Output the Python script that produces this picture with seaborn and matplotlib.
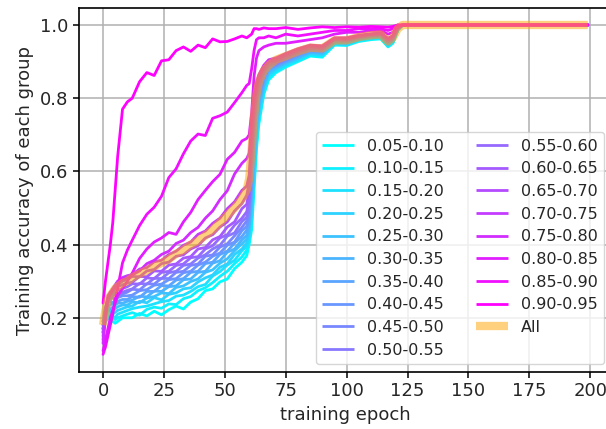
import numpy as np
import pandas as pd
import matplotlib
matplotlib.use("Agg")
from matplotlib import pyplot as plt
import seaborn as sns

epochs = [0, 1, 2, 3, 4, 5, 6, 8, 10,
          12, 15, 18, 21, 24, 27, 30, 33, 36, 39, 42, 45, 48, 51, 54, 57,
          59, 60, 61, 62, 63, 64, 66, 68,
          71, 75, 80, 85, 90, 95, 100, 105, 110, 114, 117, 119, 121, 123, 125, 199]

group_labels = ['0.05-0.10', '0.10-0.15', '0.15-0.20', '0.20-0.25', '0.25-0.30',
                '0.30-0.35', '0.35-0.40', '0.40-0.45', '0.45-0.50', '0.50-0.55',
                '0.55-0.60', '0.60-0.65', '0.65-0.70', '0.70-0.75', '0.75-0.80',
                '0.80-0.85', '0.85-0.90', '0.90-0.95']

acc_g00 = [.17, .19, .20, .195, .19, .185, .19, .20, .20,
           .200, .212, .205, .218, .208, .222, .232, .224, .243, .252, .274, .279, .298, .306, .334, .352,
           .37, .40, .44, .55, .66, .73, .81, .85,
           .870, .885, .900, .915, .912, .945, .944, .955, .960, .962, .940, .950, .985, 1, 1, 1]
acc_g01 = [.18, .20, .21, .20, .20, .195, .20, .205, .21,
           .214, .207, .223, .229, .226, .238, .236, .252, .258, .274, .282, .296, .313, .327, .348, .366,
           .385, .41, .46, .57, .68, .745, .815, .855,
           .873, .888, .905, .918, .915, .947, .946, .957, .962, .964, .942, .952, .986, 1, 1, 1]
acc_g02 = [.16, .19, .20, .21, .205, .20, .21, .215, .22,
           .225, .229, .232, .238, .244, .247, .259, .262, .272, .285, .291, .314, .326, .344, .357, .383,
           .395, .42, .48, .59, .69, .755, .825, .86,
           .876, .890, .903, .920, .918, .948, .948, .958, .963, .966, .944, .954, .987, 1, 1, 1]
acc_g03 = [.18, .21, .22, .215, .21, .215, .22, .225, .23,
           .232, .245, .241, .255, .249, .264, .268, .279, .282, .298, .309, .317, .338, .347, .373, .388,
           .405, .435, .50, .61, .70, .765, .83, .865,
           .880, .893, .908, .922, .920, .950, .947, .960, .965, .967, .945, .955, .988, 1, 1, 1]
acc_g04 = [.17, .20, .22, .225, .22, .225, .23, .235, .235,
           .243, .241, .254, .258, .268, .266, .283, .287, .299, .306, .324, .331, .349, .361, .383, .402,
           .415, .445, .52, .63, .715, .775, .835, .87,
           .882, .896, .910, .925, .922, .951, .950, .961, .966, .968, .947, .957, .988, 1, 1, 1]
acc_g05 = [.19, .22, .23, .22, .23, .235, .24, .24, .245,
           .248, .259, .257, .273, .272, .285, .287, .304, .306, .324, .327, .349, .356, .379, .388, .413,
           .425, .455, .54, .65, .73, .785, .84, .875,
           .885, .898, .912, .926, .925, .953, .952, .962, .967, .969, .948, .958, .989, 1, 1, 1]
acc_g06 = [.16, .20, .23, .235, .24, .24, .245, .25, .25,
           .258, .256, .272, .272, .288, .287, .303, .307, .324, .327, .348, .352, .373, .382, .404, .422,
           .44, .47, .56, .67, .745, .795, .85, .88,
           .888, .900, .915, .928, .927, .954, .953, .963, .968, .970, .950, .960, .989, 1, 1, 1]
acc_g07 = [.18, .22, .24, .245, .24, .25, .255, .26, .26,
           .262, .274, .277, .289, .292, .304, .307, .323, .327, .344, .352, .368, .377, .398, .407, .438,
           .45, .48, .58, .69, .76, .805, .855, .88,
           .890, .903, .917, .930, .928, .956, .955, .964, .969, .971, .952, .961, .990, 1, 1, 1]
acc_g08 = [.17, .21, .24, .25, .255, .25, .26, .265, .27,
           .278, .276, .293, .292, .308, .307, .324, .327, .343, .347, .368, .372, .393, .402, .424, .447,
           .465, .50, .60, .71, .775, .815, .86, .885,
           .893, .905, .920, .932, .930, .957, .956, .965, .970, .972, .953, .962, .990, 1, 1, 1]
acc_g09 = [.19, .23, .25, .255, .26, .265, .265, .27, .275,
           .279, .294, .292, .308, .307, .323, .327, .343, .347, .363, .372, .388, .398, .423, .432, .463,
           .475, .515, .62, .725, .79, .825, .865, .89,
           .895, .908, .922, .934, .932, .958, .958, .966, .971, .973, .955, .963, .991, 1, 1, 1]
acc_g10 = [.17, .22, .25, .26, .265, .27, .275, .28, .285,
           .293, .292, .309, .307, .324, .327, .343, .347, .364, .367, .388, .397, .418, .427, .453, .472,
           .49, .53, .64, .74, .80, .835, .87, .89,
           .898, .910, .925, .935, .934, .960, .959, .967, .972, .974, .956, .964, .991, 1, 1, 1]
acc_g11 = [.16, .22, .255, .265, .27, .28, .285, .29, .295,
           .297, .313, .312, .328, .327, .344, .347, .363, .367, .388, .392, .413, .422, .448, .462, .498,
           .51, .55, .66, .755, .81, .845, .875, .895,
           .900, .913, .927, .937, .936, .961, .960, .968, .973, .975, .958, .966, .992, 1, 1, 1]
acc_g12 = [.15, .22, .26, .27, .275, .285, .29, .30, .305,
           .313, .312, .328, .332, .348, .352, .368, .372, .388, .397, .418, .427, .448, .462, .492, .512,
           .535, .57, .68, .77, .82, .85, .88, .90,
           .903, .915, .930, .940, .938, .962, .962, .969, .974, .976, .960, .968, .992, 1, 1, 1]
acc_g13 = [.14, .21, .25, .27, .28, .29, .30, .31, .315,
           .318, .333, .337, .353, .357, .373, .382, .398, .407, .428, .437, .458, .472, .498, .517, .548,
           .56, .59, .70, .785, .83, .855, .885, .90,
           .905, .918, .932, .942, .940, .963, .963, .970, .975, .977, .962, .969, .993, 1, 1, 1]
acc_g14 = [.13, .20, .25, .265, .275, .285, .295, .305, .31,
           .317, .328, .348, .357, .373, .382, .403, .412, .433, .447, .472, .492, .523, .547, .593, .622,
           .635, .65, .73, .80, .845, .865, .89, .905,
           .910, .922, .935, .945, .943, .965, .965, .972, .976, .978, .964, .971, .994, 1, 1, 1]
acc_g15 = [.11, .14, .17, .20, .22, .24, .26, .28, .30,
           .322, .362, .388, .407, .418, .433, .428, .462, .488, .523, .548, .572, .592, .633, .652, .683,
           .69, .70, .76, .86, .91, .93, .94, .945,
           .950, .950, .955, .960, .965, .975, .980, .980, .985, .985, .975, .980, .995, 1, 1, 1]
acc_g16 = [.10, .12, .15, .18, .21, .25, .28, .35, .385,
           .412, .452, .483, .502, .532, .583, .607, .648, .683, .702, .698, .745, .752, .762, .788, .815,
           .835, .84, .88, .93, .96, .965, .965, .97,
           .965, .975, .970, .975, .980, .985, .985, .990, .990, .990, .985, .990, 1.0, 1, 1, 1]
acc_g17 = [.24, .30, .35, .40, .46, .55, .64, .77, .79,
           .800, .845, .870, .862, .902, .905, .930, .940, .928, .945, .938, .962, .954, .955, .962, .970,
           .965, .97, .975, .99, .99, .988, .992, .99,
           .990, .993, .988, .992, .995, .993, .995, .994, .996, .995, .994, .996, 1.0, 1, 1, 1]
acc_all = [.18, .22, .25, .26, .27, .28, .285, .295, .30,
           .31, .32, .33, .34, .35, .36, .375, .385, .40, .41, .425, .44, .46, .48, .50, .525,
           .55, .58, .66, .75, .81, .845, .875, .89,
           .905, .915, .928, .938, .936, .958, .958, .967, .972, .974, .955, .965, .99, 1, 1, 1]

group_acc = [acc_g00, acc_g01, acc_g02, acc_g03, acc_g04, acc_g05, acc_g06, acc_g07, acc_g08,
             acc_g09, acc_g10, acc_g11, acc_g12, acc_g13, acc_g14, acc_g15, acc_g16, acc_g17]

sns.set_theme(style="ticks")
plt.rcParams['font.family'] = ['DejaVu Sans']

fig = plt.figure(figsize=(6.06, 4.29), dpi=100)
ax = fig.add_axes([0.130, 0.133, 0.880, 0.848])

colors = plt.cm.cool(np.linspace(0, 1, len(group_labels)))
for lab, acc, c in zip(group_labels, group_acc, colors):
    df = pd.DataFrame({'epoch': epochs, 'acc': acc})
    sns.lineplot(x='epoch', y='acc', data=df, ax=ax, color=c, linewidth=2, label=lab)

df_all = pd.DataFrame({'epoch': epochs, 'acc': acc_all})
sns.lineplot(x='epoch', y='acc', data=df_all, ax=ax, color='orange', alpha=0.5,
             linewidth=6, label='All', solid_capstyle='butt')

ax.set_xlim(-9.95, 208.95)
ax.set_ylim(0.052, 1.046)
ax.set_xticks([0, 25, 50, 75, 100, 125, 150, 175, 200])
ax.set_yticks([0.2, 0.4, 0.6, 0.8, 1.0])
ax.grid(True, color='#b0b0b0', linewidth=1.1)
for s in ax.spines.values():
    s.set_color('black')
    s.set_linewidth(1.2)
ax.tick_params(labelsize=13, color='black', width=1.1, length=4)
ax.set_xlabel('training epoch', fontsize=13)
ax.set_ylabel('Training accuracy of each group', fontsize=13)
leg = ax.legend(ncol=2, loc='lower right', fontsize=11.5, framealpha=0.8,
                columnspacing=2.0, labelspacing=0.48)
for h in leg.get_lines():
    h.set_solid_capstyle('butt')

plt.savefig('out.png', dpi=100)
